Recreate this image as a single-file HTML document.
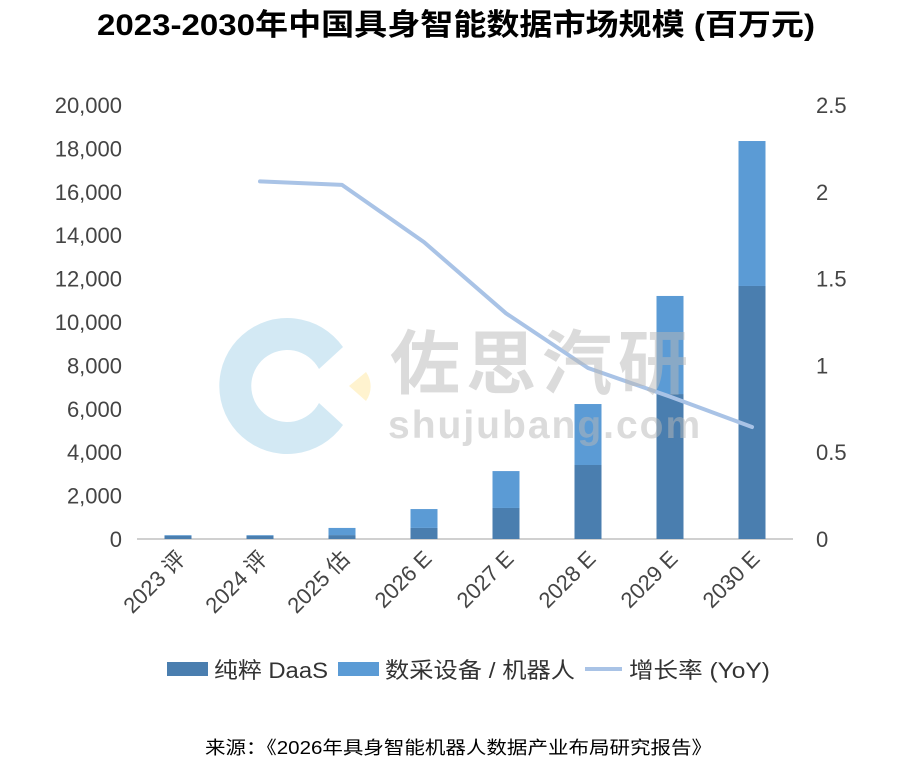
<!DOCTYPE html>
<html><head><meta charset="utf-8"><style>
body{margin:0;background:#fff;width:916px;height:770px;overflow:hidden;font-family:"Liberation Sans","Noto Sans CJK SC",sans-serif;}
</style></head><body>
<svg id="chart" width="916" height="770" xmlns="http://www.w3.org/2000/svg" font-family="Liberation Sans, Noto Sans CJK SC, sans-serif">
<text x="97" y="35" font-size="30" font-weight="bold" fill="#000" textLength="718" lengthAdjust="spacingAndGlyphs">2023-2030年中国具身智能数据市场规模 (百万元)</text>
<g id="axes"></g>
<g id="bars"></g>
<g id="line"></g>
<g opacity="0.5">
<path d="M 343 347 A 68 68 0 1 0 343 425 L 319 403 A 36 36 0 1 1 319 369 Z" fill="#a8d4ea"/>
<path d="M 349 386 L 366 372 A 25 25 0 0 1 366 401 Z" fill="#ffe9a0"/>
<text x="390" y="388" font-size="70" font-weight="bold" fill="#b8b8b8" letter-spacing="6">佐思汽研</text>
<text x="388" y="438" font-size="39" font-weight="bold" fill="#b8b8b8" letter-spacing="2">shujubang.com</text>
</g>
<g font-size="22" fill="#333">
<rect x="167" y="662" width="41" height="14" fill="#4a7eaf"/>
<text x="214" y="678" textLength="114" lengthAdjust="spacingAndGlyphs">纯粹 DaaS</text>
<rect x="338" y="662" width="41" height="14" fill="#5b9bd5"/>
<text x="385" y="678" textLength="190" lengthAdjust="spacingAndGlyphs">数采设备 / 机器人</text>
<line x1="585" y1="669" x2="622" y2="669" stroke="#a9c3e6" stroke-width="4"/>
<text x="629" y="678" textLength="141" lengthAdjust="spacingAndGlyphs">增长率 (YoY)</text>
</g>
<text x="205" y="754" font-size="18" fill="#000" textLength="507" lengthAdjust="spacingAndGlyphs">来源：《2026年具身智能机器人数据产业布局研究报告》</text>
</svg>
<script>
const categories=["2023 评","2024 评","2025 估","2026 E","2027 E","2028 E","2029 E","2030 E"];
const daas=[150,150,180,510,1430,3410,6680,11660];
const devices=[30,30,330,870,1700,2810,4520,6680];
const yoy=[null,2.06,2.04,1.71,1.30,0.985,0.82,0.645];
const leftTicks=[0,2000,4000,6000,8000,10000,12000,14000,16000,18000,20000];
const rightTicks=[0,0.5,1,1.5,2,2.5];
const NS="http://www.w3.org/2000/svg";
const x0=137,x1=793,y0=539,yTop=105;
const yL=v=>y0-(v/20000)*(y0-yTop);
const yR=v=>y0-(v/2.5)*(y0-yTop);
const step=(x1-x0)/categories.length;
const xC=i=>x0+step*(i+0.5);
function mk(tag,attrs,parent){const e=document.createElementNS(NS,tag);for(const k in attrs)e.setAttribute(k,attrs[k]);parent.appendChild(e);return e;}
const axes=document.getElementById('axes'),bars=document.getElementById('bars'),line=document.getElementById('line');
leftTicks.forEach(t=>{const e=mk('text',{x:122,y:yL(t)+8,'text-anchor':'end','font-size':22,fill:'#444'},axes);e.textContent=t.toLocaleString('en-US');

});
rightTicks.forEach(t=>{const e=mk('text',{x:816,y:yR(t)+8,'font-size':22,fill:'#444'},axes);e.textContent=String(t);

});
const ax=mk('line',{x1:x0,y1:y0,x2:x1,y2:y0,stroke:'#d0d0d0','stroke-width':2},axes);


categories.forEach((c,i)=>{const cx=xC(i);const e=mk('text',{x:cx+9,y:560,'text-anchor':'end','font-size':22,fill:'#444',transform:`rotate(-45 ${cx+9} 560)`},axes);e.textContent=c;


const w=27;
const b1=mk('rect',{x:cx-w/2,y:yL(daas[i]),width:w,height:y0-yL(daas[i]),fill:'#4a7eaf'},bars);


const top=daas[i]+devices[i];
const b2=mk('rect',{x:cx-w/2,y:yL(top),width:w,height:yL(daas[i])-yL(top),fill:'#5b9bd5'},bars);

});
let d='';yoy.forEach((v,i)=>{if(v==null)return;d+=(d?'L':'M')+xC(i)+' '+yR(v)+' ';});
const p=mk('path',{d:d,fill:'none',stroke:'#a9c3e6','stroke-width':4,'stroke-linecap':'round','stroke-linejoin':'round'},line);


</script>
</body></html>
